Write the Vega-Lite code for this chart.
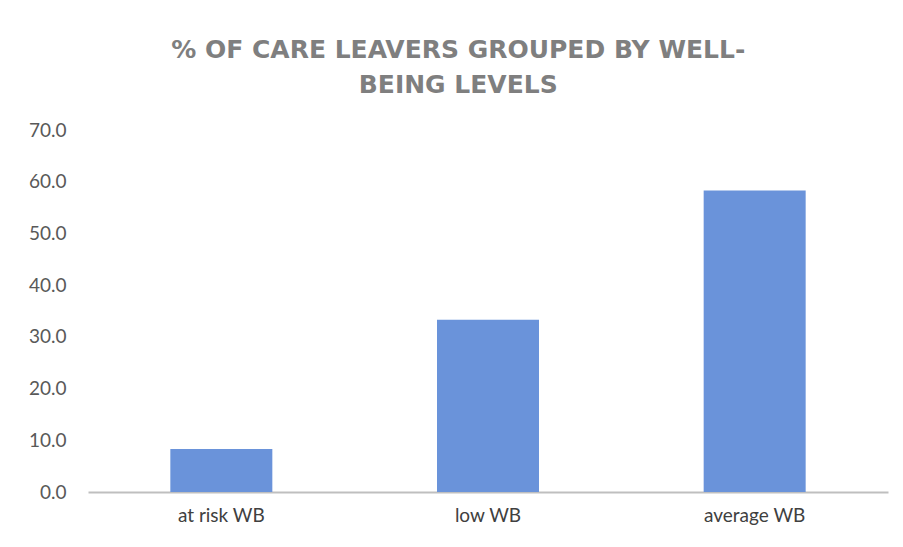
{
  "$schema": "https://vega.github.io/schema/vega-lite/v6.json",
  "autosize": "none",
  "width": 800,
  "height": 362,
  "padding": {"left": 88, "top": 130, "right": 15, "bottom": 55},
  "background": "white",
  "title": {
    "text": ["% OF CARE LEAVERS GROUPED BY WELL-", "BEING LEVELS"],
    "font": "DejaVu Sans",
    "fontSize": 25,
    "fontWeight": "bold",
    "color": "#7f7f7f",
    "lineHeight": 35,
    "anchor": "middle",
    "frame": "bounds",
    "offset": 23
  },
  "data": {
    "values": [
      {"level": "at risk WB", "pct": 8.3},
      {"level": "low WB", "pct": 33.3},
      {"level": "average WB", "pct": 58.3}
    ]
  },
  "mark": {"type": "bar", "size": 102, "color": "#6a93da"},
  "encoding": {
    "x": {
      "field": "level",
      "type": "nominal",
      "sort": null,
      "title": null,
      "axis": {
        "labelAngle": 0,
        "labelFont": "Lato",
        "labelFontSize": 19,
        "labelColor": "#404040",
        "labelPadding": 14,
        "ticks": false,
        "domainColor": "#bfbfbf",
        "domainWidth": 2
      }
    },
    "y": {
      "field": "pct",
      "type": "quantitative",
      "title": null,
      "scale": {"domain": [0, 70], "nice": false},
      "axis": {
        "values": [0, 10, 20, 30, 40, 50, 60, 70],
        "format": ".1f",
        "grid": false,
        "domain": false,
        "ticks": false,
        "labelFont": "Lato",
        "labelFontSize": 19,
        "labelColor": "#595959",
        "labelPadding": 22
      }
    }
  },
  "config": {"view": {"stroke": null}}
}
